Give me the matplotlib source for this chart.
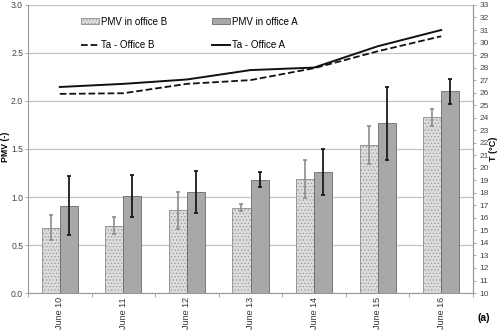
import matplotlib
matplotlib.use("Agg")
import matplotlib.pyplot as plt
import numpy as np
from matplotlib.patches import Patch
from matplotlib.lines import Line2D

plt.rcParams['font.family'] = ['Liberation Sans', 'DejaVu Sans']
plt.rcParams['hatch.linewidth'] = 0.4

days = ["June 10", "June 11", "June 12", "June 13", "June 14", "June 15", "June 16"]
pmv_b = [0.68, 0.70, 0.86, 0.89, 1.19, 1.54, 1.83]
pmv_b_err = [0.13, 0.09, 0.19, 0.04, 0.20, 0.20, 0.09]
pmv_a = [0.91, 1.01, 1.05, 1.18, 1.26, 1.77, 2.10]
pmv_a_err = [0.31, 0.22, 0.22, 0.08, 0.24, 0.38, 0.13]
ta_b = [25.9, 25.95, 26.7, 27.0, 27.95, 29.3, 30.5]
ta_a = [26.45, 26.7, 27.05, 27.8, 28.0, 29.7, 31.0]

fig = plt.figure(figsize=(5.0, 3.3), dpi=100)
ax = fig.add_axes([0.056, 0.112, 0.89, 0.873])
x = np.arange(len(days))
w = 0.285

ax.set_axisbelow(True)
ax.yaxis.grid(True, color='#c4c4c4', linewidth=0.9)
ax.bar(x - w/2, pmv_b, w, color='#dcdcdc', edgecolor='#8a8a8a', hatch='.....', linewidth=0.6, zorder=2)
ax.bar(x + w/2, pmv_a, w, color='#a8a8a8', edgecolor='#6a6a6a', linewidth=0.6, zorder=2)
ax.errorbar(x - w/2, pmv_b, yerr=pmv_b_err, fmt='none', ecolor='#8c8c8c', elinewidth=1.2, capsize=1.5, capthick=1.2, zorder=3)
ax.errorbar(x + w/2, pmv_a, yerr=pmv_a_err, fmt='none', ecolor='#1a1a1a', elinewidth=1.3, capsize=1.5, capthick=1.3, zorder=3)

ax.set_xlim(-0.5, len(days) - 0.5)
ax.set_ylim(0, 3.0)
ax.set_yticks(np.arange(0, 3.01, 0.5))
ax.set_yticklabels([f"{v:.1f}" for v in np.arange(0, 3.01, 0.5)])
ax.set_xticks(x)
ax.set_xticklabels(days, rotation=90)
ax.set_xticks(np.arange(-0.5, len(days), 1.0), minor=True)
ax.tick_params(axis='x', which='major', length=0, labelsize=6.5, colors='#333333', pad=3)
ax.tick_params(axis='x', which='minor', length=3, color='#999999')
ax.tick_params(axis='y', labelsize=6.2, length=2.5, width=0.6, pad=1, colors='#999999', labelcolor='#444444')
for s in ['left', 'bottom', 'right']:
    ax.spines[s].set_color('#999999')
    ax.spines[s].set_linewidth(0.8)
ax.spines['top'].set_visible(False)
fig.text(6 / 500, 1 - 147 / 330, "PMV (-)", fontsize=6.3, fontweight='bold',
         rotation=90, ha='center', va='center')

ax2 = ax.twinx()
ax2.plot(x, ta_b, '--', color='#111111', linewidth=1.3, zorder=4)
ax2.plot(x, ta_a, '-', color='#111111', linewidth=1.4, zorder=4)
ax2.set_ylim(10, 33)
ax2.set_yticks(np.arange(10, 34, 1))
ax2.tick_params(axis='y', labelsize=6, colors='#999999', labelcolor='#444444', length=2.5, width=0.6, pad=2)
for s in ['left', 'bottom', 'right', 'top']:
    ax2.spines[s].set_visible(False)
ax2.spines['right'].set_visible(True)
ax2.spines['right'].set_color('#999999')
ax2.spines['right'].set_linewidth(0.8)
ax2.set_ylabel("T (°C)", fontsize=6.5, fontweight='bold', labelpad=0)

handles = [
    Patch(facecolor='#dcdcdc', edgecolor='#8a8a8a', hatch='.....', linewidth=0.6),
    Line2D([0], [0], color='#111111', linestyle='--', linewidth=1.3),
    Patch(facecolor='#a8a8a8', edgecolor='#6a6a6a', linewidth=0.6),
    Line2D([0], [0], color='#111111', linestyle='-', linewidth=1.4),
]
labels = ["PMV in office B", "Ta - Office B", "PMV in office A", "Ta - Office A"]
ax2.legend(handles, labels, ncol=2, frameon=False, fontsize=7, loc='upper left',
           bbox_to_anchor=(0.1, 0.99), handlelength=1.8, handleheight=0.6,
           columnspacing=4.6, handletextpad=0.25, labelspacing=1.4)

fig.text(0.956, 0.022, "(a)", fontsize=7.5, fontweight='bold', ha='left', va='bottom')

fig.savefig("out.png", dpi=100)
